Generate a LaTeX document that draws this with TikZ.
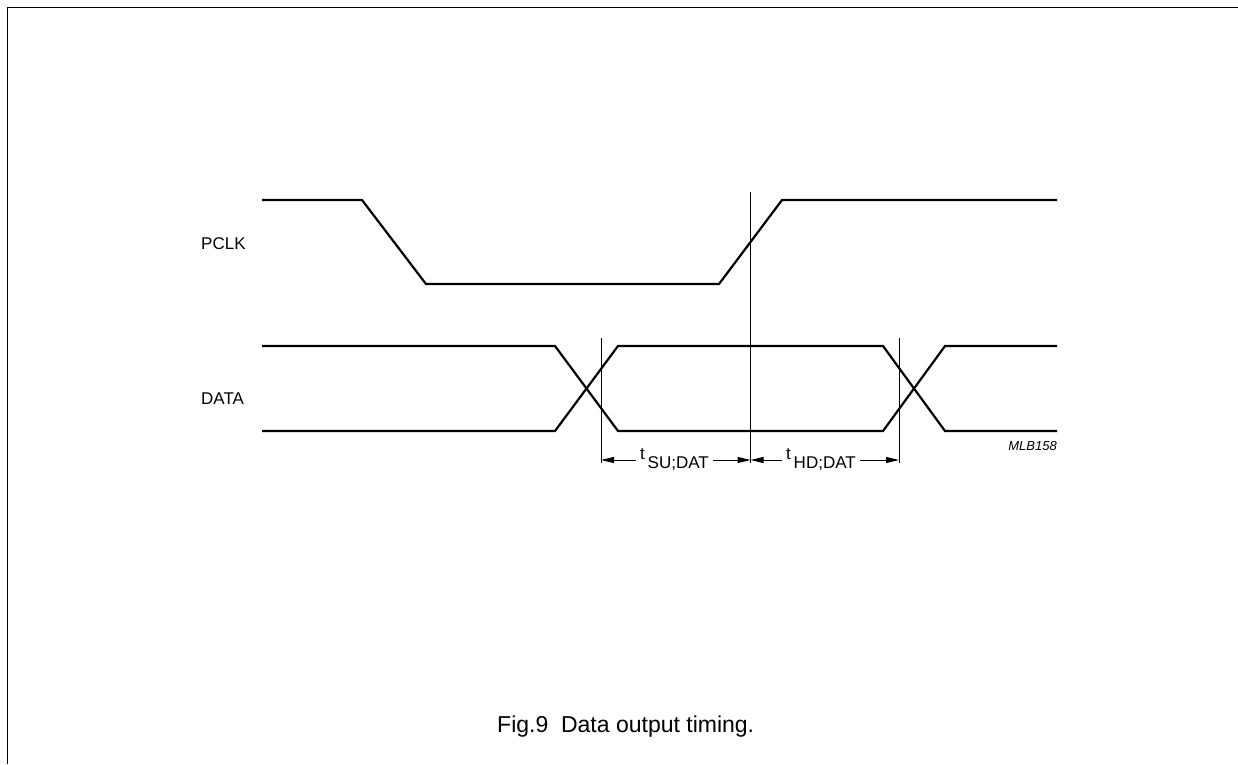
\documentclass[tikz,border=0pt]{standalone}
\usepackage{fontspec}
\setmainfont{Liberation Sans}
\usetikzlibrary{arrows.meta}
\tikzset{
  wave/.style={line width=2.2pt, line join=miter},
  refline/.style={line width=1pt},
  frameline/.style={line width=1.3pt},
  lbl/.style={inner sep=0pt, font=\fontsize{17}{20}\selectfont},
  caplbl/.style={inner sep=0pt, font=\fontsize{23}{27}\selectfont},
  dimarrow/.style={line width=1pt, -{Triangle[length=13pt,width=6pt]}},
  tlabel/.style={inner sep=0pt, outer sep=4pt, font=\fontsize{17}{20}\selectfont},
}
\begin{document}
\begin{tikzpicture}[x=1pt,y=-1pt]
\useasboundingbox (0,0) rectangle (1238,764);
% frame (top and left only)
\draw[frameline] (7.5,764) -- (7.5,7.5) -- (1238,7.5);
% labels
\node[lbl, anchor=base west] (pclk) at (201,249) {PCLK};
\node[lbl, anchor=base west] (data) at (201,404) {DATA};
\node[caplbl, anchor=base west] (cap) at (497,732) {Fig.9\ \ Data output timing.};
\node[inner sep=0pt, anchor=base east, font=\fontsize{13}{15}\selectfont\itshape] (mlb) at (1057,450) {MLB158};
% PCLK waveform
\draw[wave] (262,200) -- (362,200) -- (426,284) -- (719,284) -- (782,200) -- (1057,200);
% DATA waveform
\draw[wave] (262,346) -- (555,346) -- (618,431) -- (883,431) -- (945,346) -- (1057,346);
\draw[wave] (262,431) -- (555,431) -- (618,346) -- (883,346) -- (945,431) -- (1057,431);
% reference lines
\coordinate (v1top) at (601,338);
\coordinate (v1) at (601,460);
\coordinate (v1bot) at (601,463);
\coordinate (v2top) at (750.5,192);
\coordinate (v2) at (750.5,460);
\coordinate (v2bot) at (750.5,463);
\coordinate (v3top) at (899,338);
\coordinate (v3) at (899,460);
\coordinate (v3bot) at (899,463);
\draw[refline] (v1top) -- (v1bot);
\draw[refline] (v2top) -- (v2bot);
\draw[refline] (v3top) -- (v3bot);
% timing labels
\node[tlabel, anchor=west] (tsu) at (636,460) {t\hspace{3pt}\raisebox{-9pt}{SU;DAT}};
\node[tlabel, anchor=west] (thd) at (782,460) {t\hspace{3pt}\raisebox{-9pt}{HD;DAT}};
\draw[dimarrow] (tsu.west) -- (tsu.west -| v1);
\draw[dimarrow] (tsu.east) -- (tsu.east -| v2);
\draw[dimarrow] (thd.west) -- (thd.west -| v2);
\draw[dimarrow] (thd.east) -- (thd.east -| v3);
\end{tikzpicture}
\end{document}
